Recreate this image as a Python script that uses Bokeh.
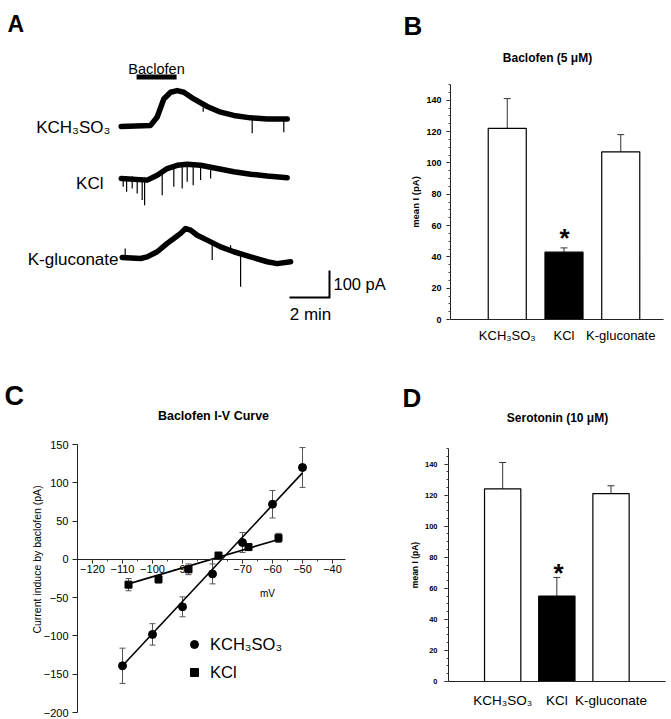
import numpy as np
from bokeh.plotting import figure
from bokeh.models import (Range1d, Label, ColumnDataSource, Whisker, TeeHead, LinearAxis,
                          SingleIntervalTicker, FixedTicker, Legend, LegendItem)
from bokeh.layouts import row, column
from bokeh.embed import file_html
from bokeh.resources import INLINE

FONT = "Liberation Sans"

# ---------------- Panel A: example current traces (min, pA) ----------------
A_NAMES = ["KCH₃SO₃", "KCl", "K-gluconate"]
A_T_CH3SO3 = [0.0, 1.47, 1.8, 2.13, 2.47, 2.8, 3.13, 3.63, 4.3, 4.97, 5.63, 6.47, 7.3, 8.3]
A_I_CH3SO3 = [0, 4, 35, 102, 127, 133, 127, 102, 74, 53, 41, 32, 28, 28]
A_T_KCL = [0.0, 1.3, 1.8, 2.3, 2.8, 3.3, 3.97, 4.8, 5.63, 6.47, 7.3, 8.3]
A_I_KCL = [0, -6, 12, 37, 49, 53, 49, 37, 25, 16, 9, 3]
A_T_KGLU = [0.05, 0.97, 1.3, 1.8, 2.3, 2.63, 2.97, 3.22, 3.47, 3.8, 4.3, 4.97, 5.63, 6.47, 7.3, 7.8, 8.47]
A_I_KGLU = [4, 0, 6, 25, 56, 74, 93, 111, 105, 86, 68, 43, 25, 6, -12, -19, -12]
# transient spikes: time, top, bottom (pA)
A_SP_T_CH3SO3 = [4.1, 6.55, 8.13]
A_SP_TOP_CH3SO3 = [70, 30, 27]
A_SP_BOT_CH3SO3 = [55, -25, -21]
A_SP_T_KCL = [0.1, 0.27, 0.55, 0.8, 1.05, 1.17, 2.05, 2.63, 3.05, 3.3, 3.6, 3.97, 4.47]
A_SP_TOP_KCL = [8, 8, 8, 5, 5, 5, 35, 52, 55, 58, 58, 56, 48]
A_SP_BOT_KCL = [-31, -49, -37, -56, -80, -99, -62, -31, -37, -12, -25, -6, 0]
A_SP_T_KGLU = [0.2, 4.55, 5.47, 5.97]
A_SP_TOP_KGLU = [37, 60, 49, 28]
A_SP_BOT_KGLU = [0, -6, 25, -105]
A_BACLOFEN_ON = 0.77
A_BACLOFEN_OFF = 2.77
A_SCALE_PA = 100
A_SCALE_MIN = 2

# ---------------- Panels B and D: mean currents ----------------
CATEGORIES = ["KCH₃SO₃", "KCl", "K-gluconate"]
B_MEAN = [122, 43, 107]
B_SEM = [19, 2.7, 11]
D_MEAN = [124, 55, 121]
D_SEM = [17, 12, 5]
BAR_COLORS = ["white", "black", "white"]

# ---------------- Panel C: I-V curve ----------------
C_V_CH3SO3 = [-110, -100, -90, -80, -70, -60, -50]
C_I_CH3SO3 = [-139, -98, -62, -19, 22, 72, 120]
C_E_CH3SO3 = [23, 14, 13, 13, 13, 18, 26]
C_FIT_V_CH3SO3 = [-110, -50]
C_FIT_I_CH3SO3 = [-139, 113]
C_V_KCL = [-108, -98, -88, -78, -68, -58]
C_I_KCL = [-33, -26, -13, 5, 16, 28]
C_E_KCL = [8, 5, 7, 3, 2, 6]
C_FIT_V_KCL = [-108, -58]
C_FIT_I_KCL = [-32, 26]


class Panel:
    """A figure whose frame is its whole canvas; maps page pixels to data."""

    def __init__(self, cx, cy, w, h, xa, xb, ya, yb):
        (pxa, vxa), (pxb, vxb) = xa, xb
        (pya, vya), (pyb, vyb) = ya, yb
        self.sx = (vxb - vxa) / (pxb - pxa)
        self.sy = (vyb - vya) / (pya - pyb)
        self.pxa, self.vxa, self.pya, self.vya = pxa, vxa, pya, vya
        x0, _ = self.m(cx, cy)
        x1, _ = self.m(cx + w, cy)
        _, y1 = self.m(cx, cy)
        _, y0 = self.m(cx, cy + h)
        p = figure(width=w, height=h, x_range=Range1d(x0, x1), y_range=Range1d(y0, y1),
                   output_backend="svg", toolbar_location=None, min_border=0,
                   x_axis_location=None, y_axis_location=None)
        p.grid.grid_line_color = None
        p.outline_line_color = None
        p.background_fill_color = "white"
        p.border_fill_color = "white"
        self.p = p

    def m(self, px, py):
        return (self.vxa + (px - self.pxa) * self.sx,
                self.vya + (self.pya - py) * self.sy)

    def text(self, px, py, text, size, bold=False, align="center",
             baseline="middle", angle=0.0, color="black"):
        x, y = self.m(px, py)
        self.p.add_layout(Label(x=x, y=y, text=text, text_font=FONT,
                                text_font_size=f"{size}px",
                                text_font_style="bold" if bold else "normal",
                                text_align=align, text_baseline=baseline,
                                angle=angle, text_color=color))


def style_axis(ax, size, bold=False, standoff=3, tick_out=4, minor_out=2):
    ax.major_tick_out = tick_out
    ax.major_tick_in = 0
    ax.minor_tick_out = minor_out
    ax.minor_tick_in = 0
    ax.axis_line_color = "#222222"
    ax.major_tick_line_color = "#222222"
    ax.minor_tick_line_color = "#444444"
    ax.major_label_standoff = standoff
    ax.major_label_text_font = FONT
    ax.major_label_text_font_size = f"{size}px"
    ax.major_label_text_font_style = "bold" if bold else "normal"
    ax.major_label_text_color = "black"


LEFT_W, RIGHT_W = 392, 279
TOP_H, BOTTOM_H = 343, 376

# ======================= Panel A =======================
A = Panel(0, 0, LEFT_W, TOP_H, (120.7, 0), (140.7, 1), (258, 0), (231, 100))
pA = A.p
traces = [
    (A_T_CH3SO3, A_I_CH3SO3, A_SP_T_CH3SO3, A_SP_TOP_CH3SO3, A_SP_BOT_CH3SO3, 126, 110, 127),
    (A_T_KCL, A_I_KCL, A_SP_T_KCL, A_SP_TOP_KCL, A_SP_BOT_KCL, 178, 103, 183),
    (A_T_KGLU, A_I_KGLU, A_SP_T_KGLU, A_SP_TOP_KGLU, A_SP_BOT_KGLU, 258, 118, 259),
]
for name, (t, i, st, stop, sbot, base_px, lx, ly) in zip(A_NAMES, traces):
    off = A.m(0, base_px)[1]
    pA.line(t, np.array(i) + off, line_width=5.5, color="black",
            line_join="round", line_cap="round")
    pA.segment(x0=st, y0=np.array(stop) + off, x1=st, y1=np.array(sbot) + off,
               line_width=1.2, color="black")
    A.text(lx, ly, name, 17, align="right")

yb = A.m(0, 76.5)[1]
pA.segment(x0=[A_BACLOFEN_ON], y0=[yb], x1=[A_BACLOFEN_OFF], y1=[yb],
           line_width=5, color="black", line_cap="butt")
A.text(156, 68, "Baclofen", 14.5)

sx, sy = A.m(329, 297)
pA.line([sx - A_SCALE_MIN, sx, sx], [sy, sy, sy + A_SCALE_PA],
        line_width=2, color="black", line_join="miter")
A.text(333, 283, "100 pA", 16.5, align="left")
A.text(310, 314, "2 min", 17)
A.text(7, 23, "A", 23, bold=True, align="left", baseline="alphabetic")


# ======================= Bar panels =======================
def bar_panel(cy, h, x0px, spacing, y0px, y150px, xend, mean, sem, title, title_xy,
              letter, letter_xy, star_xy, tick_size, lab_size, cat_size, cat_standoff,
              tick_standoff, lab_standoff):
    P = Panel(LEFT_W, cy, RIGHT_W, h, (x0px, 0), (x0px + spacing, 1), (y0px, 0), (y150px, 150))
    p = P.p
    xs = list(range(1, len(CATEGORIES) + 1))
    src = ColumnDataSource(dict(x=xs, top=mean,
                                upper=[a + b for a, b in zip(mean, sem)],
                                color=BAR_COLORS))
    p.add_layout(Whisker(base="x", lower="top", upper="upper", source=src,
                         line_color="#333333", line_width=1,
                         lower_head=None,
                         upper_head=TeeHead(size=7, line_color="#333333", line_width=1)))
    p.vbar(x="x", top="top", bottom=0, width=0.67, fill_color="color",
           line_color="black", line_width=1.2, source=src)

    xa = LinearAxis(fixed_location=0, bounds=(0, xend), ticker=FixedTicker(ticks=xs))
    style_axis(xa, cat_size, standoff=cat_standoff, tick_out=0, minor_out=0)
    xa.major_label_overrides = {x: c for x, c in zip(xs, CATEGORIES)}
    xa.major_tick_line_color = None
    xa.minor_tick_line_color = None
    p.add_layout(xa, "below")

    ya = LinearAxis(fixed_location=0, bounds=(0, 150),
                    ticker=SingleIntervalTicker(interval=20, num_minor_ticks=4))
    style_axis(ya, tick_size, bold=True, standoff=tick_standoff)
    ya.axis_label = "mean I (pA)"
    ya.axis_label_text_font = FONT
    ya.axis_label_text_font_size = f"{lab_size}px"
    ya.axis_label_text_font_style = "bold"
    ya.axis_label_text_color = "black"
    ya.axis_label_standoff = lab_standoff
    p.add_layout(ya, "left")

    P.text(title_xy[0], title_xy[1], title, 12, bold=True)
    P.text(letter_xy[0], letter_xy[1], letter, 26, bold=True,
           align="left", baseline="alphabetic")
    P.text(star_xy[0], star_xy[1], "*", 26, bold=True, baseline="alphabetic")
    return p


pB = bar_panel(0, TOP_H, 450, 56.75, 319, 84, 3.753, B_MEAN, B_SEM,
               "Baclofen (5 μM)", (547, 57), "B", (403, 25), (564, 237),
               9, 9.5, 13, 8, 5, 2)
pD = bar_panel(TOP_H, BOTTOM_H, 448, 54.17, 681, 448, 4.01, D_MEAN, D_SEM,
               "Serotonin (10 μM)", (557, 417), "D", (402, 397), (558, 572),
               7.5, 8.5, 13.5, 11, 7, 2)

# ======================= Panel C =======================
C = Panel(0, TOP_H, LEFT_W, BOTTOM_H, (77, -125), (347, -35), (444, 150), (712, -200))
pC = C.p
xax = LinearAxis(fixed_location=0, bounds=(-125, -35.67),
                 ticker=SingleIntervalTicker(interval=10, num_minor_ticks=2))
style_axis(xax, 11, standoff=2, tick_out=4, minor_out=2)
xax.major_label_overrides = {-80: ""}
pC.add_layout(xax, "below")

yax = LinearAxis(fixed_location=-125, bounds=(-200, 150),
                 ticker=SingleIntervalTicker(interval=50, num_minor_ticks=0))
style_axis(yax, 11, standoff=4, tick_out=5, minor_out=0)
yax.minor_tick_line_color = None
pC.add_layout(yax, "left")

for v, i, e in ((C_V_CH3SO3, C_I_CH3SO3, C_E_CH3SO3), (C_V_KCL, C_I_KCL, C_E_KCL)):
    s = ColumnDataSource(dict(x=v, lo=[a - b for a, b in zip(i, e)],
                              hi=[a + b for a, b in zip(i, e)]))
    pC.add_layout(Whisker(base="x", lower="lo", upper="hi", source=s,
                          line_color="#555555", line_width=1,
                          lower_head=TeeHead(size=6, line_color="#555555", line_width=1),
                          upper_head=TeeHead(size=6, line_color="#555555", line_width=1)))

pC.line(C_FIT_V_CH3SO3, C_FIT_I_CH3SO3, line_width=1.6, color="black")
pC.line(C_FIT_V_KCL, C_FIT_I_KCL, line_width=1.6, color="black")
r1 = pC.scatter(C_V_CH3SO3, C_I_CH3SO3, marker="circle", size=8, color="black")
r2 = pC.scatter(C_V_KCL, C_I_KCL, marker="square", size=7, color="black")

# legend box: top-left at page (184, 634), height 48 -> bottom at 682
legend = Legend(items=[LegendItem(label="KCH₃SO₃", renderers=[r1]),
                       LegendItem(label="KCl", renderers=[r2])],
                location=(184, TOP_H + BOTTOM_H - 682), glyph_width=20, glyph_height=20,
                label_standoff=6, spacing=8, padding=0, margin=0,
                label_height=20, label_text_font=FONT, label_text_color="black",
                label_text_font_size="16.5px", border_line_color=None,
                background_fill_alpha=0)
pC.add_layout(legend)

C.text(213, 415, "Baclofen I-V Curve", 12.5, bold=True)
C.text(36, 559, "Current induce by baclofen (pA)", 10.5, angle=np.pi / 2)
C.text(267, 593, "mV", 10)
C.text(4, 395, "C", 27, bold=True, align="left", baseline="alphabetic")

layout = row(column(pA, pC), column(pB, pD))
open("out.html", "w").write(file_html(layout, INLINE))
